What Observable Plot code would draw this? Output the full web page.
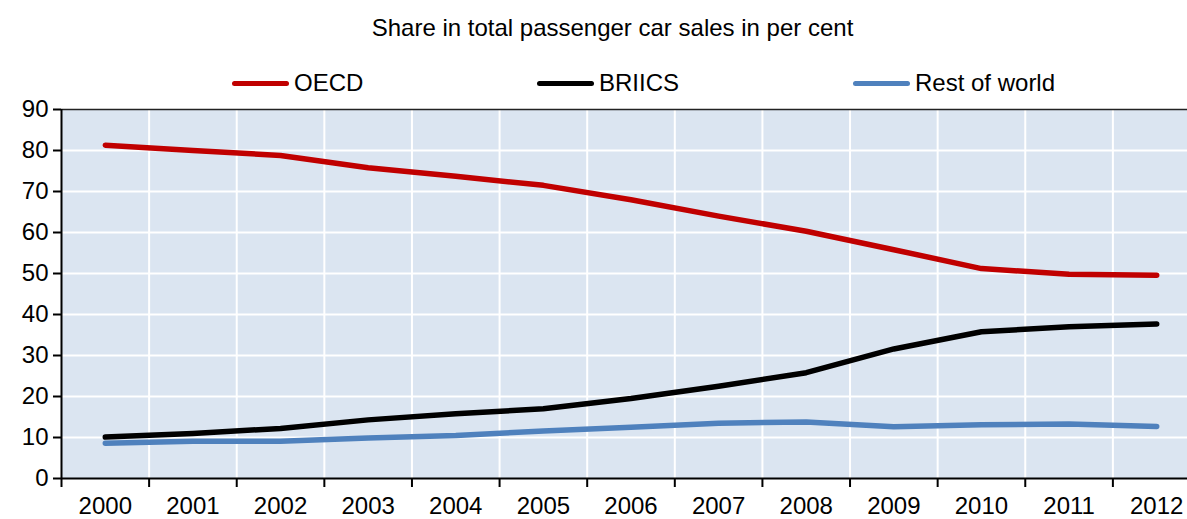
<!DOCTYPE html>
<html>
<head>
<meta charset="utf-8">
<script src="https://cdn.jsdelivr.net/npm/d3@7"></script>
<script src="https://cdn.jsdelivr.net/npm/@observablehq/plot@0.6"></script>
<style>
  html, body { margin: 0; padding: 0; background: #fff; overflow: hidden; }
  body { width: 1187px; height: 519px; font-family: "Liberation Sans", Arial, sans-serif; color: #000; }
  #title { height: 63px; line-height: 56px; text-align: center; font-size: 24px; padding-left: 38px; box-sizing: border-box; white-space: nowrap; }
  #legend { height: 40px; display: flex; align-items: center; padding-left: 232px; font-size: 24px; white-space: nowrap; }
  .item { display: flex; align-items: center; flex: none; }
  .sw { width: 57px; height: 5px; border-radius: 3px; margin-right: 5px; flex: none; }
  #chart { height: 416px; }
</style>
</head>
<body>
<div id="title">Share in total passenger car sales in per cent</div>
<div id="legend"></div>
<div id="chart"></div>
<script>
const years = [2000, 2001, 2002, 2003, 2004, 2005, 2006, 2007, 2008, 2009, 2010, 2011, 2012];
const seriesNames = ["OECD", "BRIICS", "Rest of world"];
const seriesColors = ["#c00000", "#000000", "#4f81bd"];
const oecd   = [81.3, 80.0, 78.8, 75.8, 73.7, 71.5, 68.0, 64.0, 60.3, 55.8, 51.2, 49.8, 49.6];
const briics = [10.1, 11.0, 12.2, 14.3, 15.8, 17.0, 19.5, 22.5, 25.8, 31.6, 35.8, 37.0, 37.7];
const rest   = [8.6, 9.1, 9.1, 9.9, 10.5, 11.6, 12.5, 13.5, 13.8, 12.6, 13.1, 13.3, 12.7];
const yTicks = [0, 10, 20, 30, 40, 50, 60, 70, 80, 90];

const seriesValues = [oecd, briics, rest];
const data = [];
seriesNames.forEach((name, i) => {
  years.forEach((yr, j) => data.push({series: name, year: yr, value: seriesValues[i][j]}));
});
const boundaries = years.concat([years[years.length - 1] + 1]).map(y => y - 0.5);

// legend
const legend = document.getElementById("legend");
const itemStarts = [232, 537, 853];
seriesNames.forEach((name, i) => {
  const it = document.createElement("div");
  it.className = "item";
  it.style.position = "absolute";
  it.style.left = itemStarts[i] + "px";
  const sw = document.createElement("div");
  sw.className = "sw";
  sw.style.background = seriesColors[i];
  const tx = document.createElement("span");
  tx.textContent = name;
  it.appendChild(sw); it.appendChild(tx);
  legend.appendChild(it);
});

const chart = Plot.plot({
  width: 1187,
  height: 416,
  marginLeft: 61,
  marginRight: -13,
  marginTop: 6,
  marginBottom: 41,
  style: { fontFamily: "Liberation Sans, Arial, sans-serif", fontSize: "24px", color: "#000", overflow: "visible" },
  x: { domain: [years[0] - 0.5, years[years.length - 1] + 0.5] },
  y: { domain: [0, 90] },
  color: { domain: seriesNames, range: seriesColors },
  marks: [
    Plot.frame({ fill: "#dbe5f1", stroke: null }),
    Plot.gridY(yTicks.slice(1, -1), { stroke: "#fff", strokeOpacity: 1, strokeWidth: 2 }),
    Plot.gridX(boundaries.slice(1), { stroke: "#fff", strokeOpacity: 1, strokeWidth: 2 }),
    Plot.ruleY([yTicks[yTicks.length - 1]], { stroke: "#222", strokeWidth: 1.5 }),
    Plot.lineY(data, { x: "year", y: "value", stroke: "series", strokeWidth: 5.5, strokeLinecap: "round", strokeLinejoin: "round" }),
    Plot.axisY(yTicks, { tickSize: 8, tickPadding: 5, stroke: "#000", strokeWidth: 2, label: null, fontSize: 24 }),
    Plot.ruleX([years[0] - 0.5], { stroke: "#000", strokeWidth: 2 }),
    Plot.ruleY([0], { stroke: "#000", strokeWidth: 2 }),
    Plot.axisX(boundaries, { tickSize: 9, tickFormat: () => "", stroke: "#000", strokeWidth: 2, label: null }),
    Plot.axisX(years, { tickSize: 0, tickPadding: 18, tickFormat: d => String(d), label: null, fontSize: 24 })
  ]
});
document.getElementById("chart").appendChild(chart);
</script>
</body>
</html>
